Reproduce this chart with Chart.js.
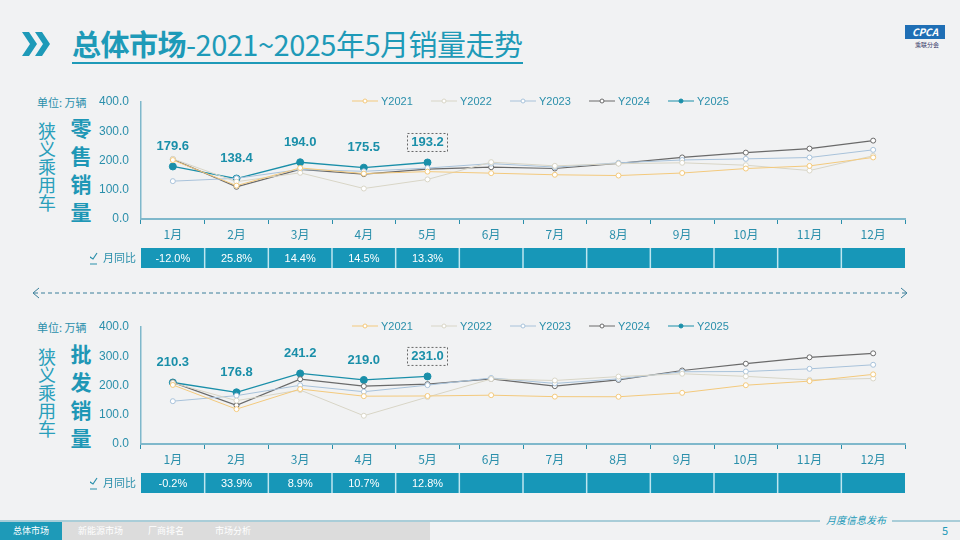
<!DOCTYPE html>
<html><head><meta charset="utf-8">
<script src="https://cdn.jsdelivr.net/npm/chart.js@4"></script>
<style>
body{margin:0;width:960px;height:540px;background:#f1f2f3;position:relative;overflow:hidden;font-family:"Noto Sans CJK SC","Noto Sans",sans-serif;}
.abs{position:absolute}
.title{left:72px;top:24px;font-size:29px;color:#1e9ab8;border-bottom:2px solid #1e9ab8;line-height:38px;letter-spacing:-0.5px}
.side1{font-size:18px;color:#2a9fbb;writing-mode:vertical-rl;line-height:20px}
.side2{font-size:21px;color:#1e97b6;font-weight:bold;writing-mode:vertical-rl;letter-spacing:7px}
.unit{font-size:11px;color:#2a8fab}
</style></head><body>
<svg class="abs" style="left:22px;top:30px" width="30" height="28"><path d="M0 2h7l8 12-8 12H0l8-12z M13 2h7l8 12-8 12h-7l8-12z" fill="#1e9ab8"/></svg>
<div class="abs title"><b>总体市场</b>-2021~2025年5月销量走势</div>
<div class="abs" style="left:905px;top:25px;width:40px;height:14px;background:#1f6fb5;color:#fff;font-size:10px;font-weight:bold;text-align:center;line-height:14px;font-style:italic">CPCA</div>
<div class="abs" style="left:915px;top:40px;font-size:6px;color:#336">乘联分会</div>
<div class="abs unit" style="left:37px;top:94px">单位: 万辆</div>
<div class="abs unit" style="left:37px;top:319px">单位: 万辆</div>
<div class="abs side1" style="left:37px;top:122px">狭义乘用车</div>
<div class="abs side2" style="left:66px;top:118px">零售销量</div>
<div class="abs side1" style="left:37px;top:348px">狭义乘用车</div>
<div class="abs side2" style="left:66px;top:344px">批发销量</div>
<svg class="abs" style="left:30px;top:287px" width="880" height="12"><line x1="4" y1="6" x2="876" y2="6" stroke="#3a7f9a" stroke-dasharray="4,3"/><path d="M9 1L3 6l6 5M871 1l6 5-6 5" fill="none" stroke="#3a7f9a"/></svg>
<div class="abs" style="left:0;top:520px;width:960px;height:2px;background:#a9cdd8"></div>
<div class="abs" style="left:0;top:522px;width:430px;height:18px;background:#dcdcdc"></div>
<div class="abs" style="left:0;top:522px;width:62px;height:18px;background:#1e9ab8;color:#fff;font-size:9px;line-height:18px;text-align:center">总体市场</div>
<div class="abs" style="left:78px;top:522px;color:#fff;font-size:9px;line-height:18px">新能源市场</div>
<div class="abs" style="left:148px;top:522px;color:#fff;font-size:9px;line-height:18px">厂商排名</div>
<div class="abs" style="left:215px;top:522px;color:#fff;font-size:9px;line-height:18px">市场分析</div>
<div class="abs" style="left:820px;top:512px;background:#f1f2f3;padding:0 6px;color:#1e9ab8;font-size:10px;font-style:italic">月度信息发布</div>
<div class="abs" style="left:942px;top:522px;color:#1e9ab8;font-size:11px">5</div>
<canvas id="c1" class="abs" style="left:90px;top:88px"></canvas>
<canvas id="c2" class="abs" style="left:90px;top:313px"></canvas>
<script>
const months=['1月','2月','3月','4月','5月','6月','7月','8月','9月','10月','11月','12月'];
const seriesNames=['Y2021','Y2022','Y2023','Y2024','Y2025'];
const retail2021=[201.5,114.1,174.6,155.2,162.0,156.7,151.2,148.6,157.2,172.5,181.5,210.5];
const retail2022=[205.8,127.5,157.9,104.2,135.4,194.3,181.7,189.0,192.2,183.9,165.6,216.2];
const retail2023=[129.4,139.1,169.4,163.0,174.2,189.4,177.5,192.0,201.8,205.6,210.2,236.4];
const retail2024=[204.3,110.0,169.6,153.3,170.5,177.1,172.6,190.5,210.5,226.9,240.8,268.0];
const retail2025=[179.6,138.4,194.0,175.5,193.2];
const retailYoY=['-12.0%','25.8%','14.4%','14.5%','13.3%','','','','','','',''];
const whole2021=[201.9,119.2,187.9,163.5,164.2,166.9,161.9,161.5,175.0,201.0,215.0,238.0];
const whole2022=[208.8,148.2,184.5,96.6,160.5,222.2,217.1,230.5,240.2,231.2,219.2,224.0];
const whole2023=[146.4,165.3,200.8,178.7,201.2,225.7,207.1,222.6,247.0,247.8,257.0,270.8];
const whole2024=[210.7,132.1,221.5,197.8,204.8,222.7,197.8,219.1,251.3,274.5,296.4,310.0];
const whole2025=[210.3,176.8,241.2,219.0,231.0];
const wholeYoY=['-0.2%','33.9%','8.9%','10.7%','12.8%','','','','','','',''];
const yTicks=[0,100,200,300,400];
const colors=['#f3c97c','#d8d5c6','#a8c2da','#6a6a6a','#1a8fa9'];

const deco={id:'deco',afterDraw(ch,a,o){
  const c=ch.ctx,x=ch.scales.x,ca=ch.chartArea,yoy=ch.options.plugins.deco.yoy;
  c.save();
  const t0=ca.bottom+29,h=20,bw=(ca.right-ca.left)/12;
  for(let i=0;i<12;i++){const l=ca.left+i*bw;c.fillStyle='#1797b8';c.fillRect(l,t0,bw,h);
    c.fillStyle='#fff';c.font='11px "Liberation Sans",sans-serif';c.textAlign='center';c.textBaseline='middle';c.fillText(yoy[i],l+bw/2,t0+h/2+1);}
  c.strokeStyle='#bfe6f0';c.lineWidth=1.5;
  for(let i=1;i<12;i++){const l=ca.left+i*bw;c.beginPath();c.moveTo(l,t0);c.lineTo(l,t0+h);c.stroke();}
  c.fillStyle='#2a8fab';c.font='11px "Noto Sans CJK SC"';c.textAlign='right';c.fillText('月同比',ca.left-5,t0+h/2);
  const ix=ca.left-56;
  c.strokeStyle='#2a8fab';c.lineWidth=1.2;c.beginPath();c.moveTo(ix,t0+4);c.lineTo(ix,t0+16);c.lineTo(ix+12,t0+16);c.moveTo(ix+1,t0+14);c.lineTo(ix+5,t0+9);c.lineTo(ix+8,t0+11);c.lineTo(ix+12,t0+5);c.stroke();
  const m=ch.getDatasetMeta(4);
  c.font='bold 13px "Liberation Sans",sans-serif';c.textAlign='center';c.fillStyle='#1a8fa9';
  m.data.forEach((p,i)=>{const ty=p.y-20;c.fillText(ch.data.datasets[4].data[i].toFixed(1),p.x,ty);
    if(i===4){c.setLineDash([2,2]);c.strokeStyle='#444';c.lineWidth=0.8;c.strokeRect(p.x-20,ty-9,40,18);c.setLineDash([]);}});
  let lx=262;const ly=ca.top-1;
  c.font='11px "Liberation Sans",sans-serif';c.textAlign='left';
  ch.data.datasets.forEach((d,i)=>{c.strokeStyle=d.borderColor;c.lineWidth=1;c.beginPath();c.moveTo(lx,ly);c.lineTo(lx+26,ly);c.stroke();
    c.beginPath();c.arc(lx+13,ly,2,0,7);c.fillStyle=i===4?d.borderColor:'#fff';c.fill();c.stroke();
    c.fillStyle='#2a8fab';c.fillText(d.label,lx+29,ly+1);lx+=79;});
  c.restore();}};

function make(id,arrs,yoy){
  const ds=arrs.map((a,i)=>({label:seriesNames[i],data:a,borderColor:colors[i],backgroundColor:i===4?colors[i]:'#fff',
    borderWidth:i===4?1.3:(i==3?1.2:1),pointRadius:i===4?3.5:2.5,pointBorderWidth:1,tension:0}));
  const cv=document.getElementById(id);cv.width=820;cv.height=190;cv.style.width='820px';cv.style.height='190px';
  new Chart(cv,{type:'line',data:{labels:months,datasets:ds},plugins:[deco],
    options:{responsive:false,animation:false,devicePixelRatio:1,layout:{padding:{top:14,right:5}},
      plugins:{legend:{display:false},tooltip:{enabled:false},deco:{yoy}},
      scales:{x:{offset:true,grid:{offset:true,drawOnChartArea:false,tickLength:5,color:'#2a8fab'},border:{color:'#7fb8cb',width:2},
          ticks:{color:'#2a8fab',font:{size:12,family:'"Noto Sans CJK SC"'},padding:3},afterFit(s){s.height=59;}},
        y:{min:0,max:400,afterBuildTicks(s){s.ticks=yTicks.map(v=>({value:v}));},grid:{display:false},border:{color:'#7fb8cb',width:1.5},
          ticks:{color:'#2a8fab',font:{size:12,family:'"Liberation Sans"'},callback:v=>v.toFixed(1),padding:4},afterFit(s){s.width=51;}}}}});
}
make('c1',[retail2021,retail2022,retail2023,retail2024,retail2025],retailYoY);
make('c2',[whole2021,whole2022,whole2023,whole2024,whole2025],wholeYoY);
</script></body></html>
